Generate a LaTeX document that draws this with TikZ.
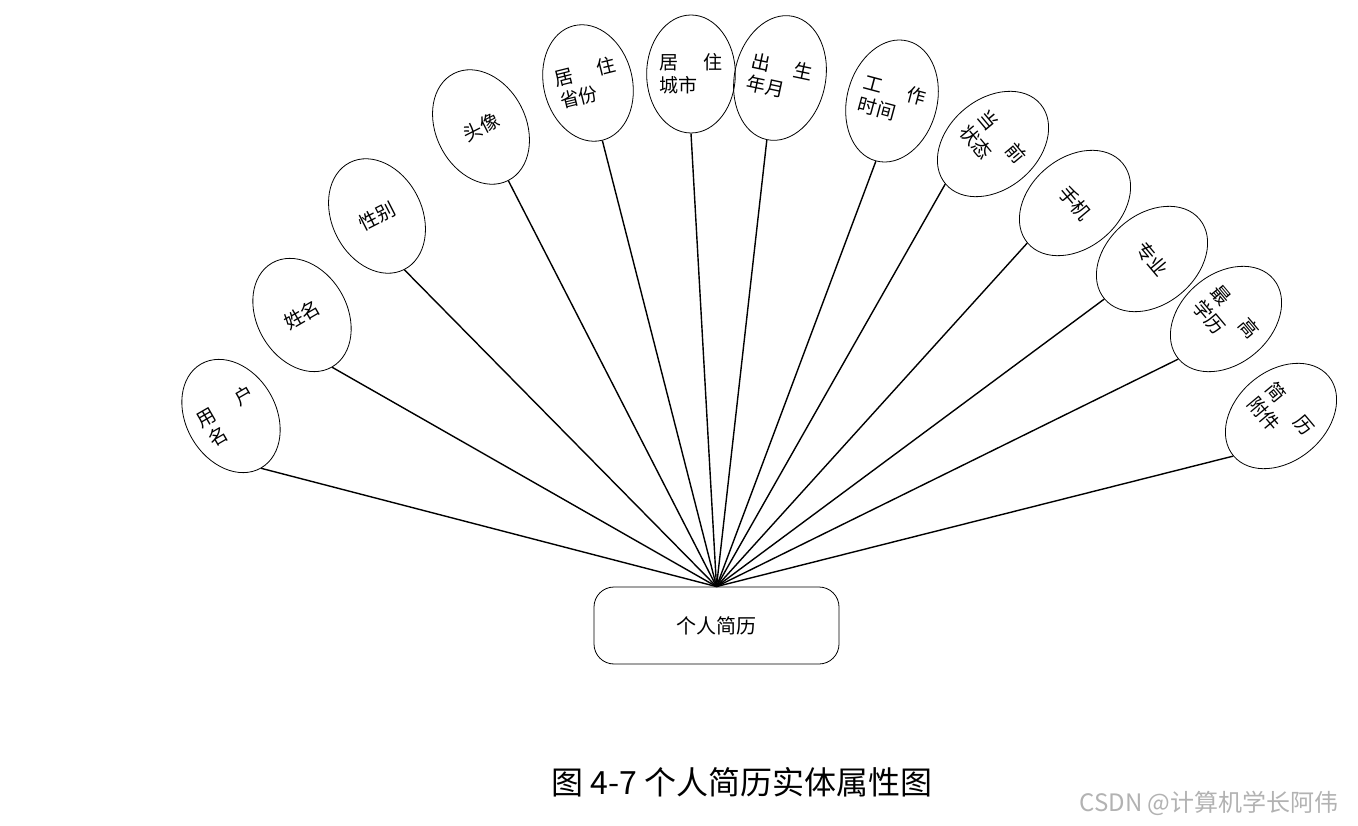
\documentclass[tikz,border=0pt]{standalone}
\usepackage{fontspec}
\setmainfont{Noto Sans CJK SC}
\usetikzlibrary{shapes.geometric}

\begin{document}
\begin{tikzpicture}[
    x=1pt, y=-1pt,
    attr/.style={ellipse, draw, line width=0.8pt, minimum width=90pt, minimum height=120pt, inner sep=0pt, align=left, font=\fontsize{19}{23}\selectfont},
    entity/.style={rectangle, draw, line width=0.8pt, rounded corners=20pt, minimum width=245pt, minimum height=77pt, font=\fontsize{20}{24}\selectfont},
    link/.style={line width=1.4pt}
]
\useasboundingbox (0,0) rectangle (1358,826);
\node[entity] (cv) at (716.5,625.5) {个人简历};
\node[attr, rotate=30] (yhm) at (231,416) {用\hspace{1.3em}户\\名};
\node[attr, rotate=30] (xm) at (302,315) {姓名};
\node[attr, rotate=27] (xb) at (377,216) {性别};
\node[attr, rotate=27] (tx) at (481,127) {头像};
\node[attr, rotate=14, minimum width=88pt, minimum height=118pt] (jzsf) at (588,83) {居\hspace{1.3em}住\\省份};
\node[attr, minimum width=88pt, minimum height=118pt] (jzcs) at (691,74) {居\hspace{1.3em}住\\城市};
\node[attr, rotate=-12, minimum width=91pt, minimum height=126pt] (csny) at (780,78) {出\hspace{1.3em}生\\年月};
\node[attr, rotate=-15, minimum height=124pt] (gzsj) at (892,101) {工\hspace{1.3em}作\\时间};
\node[attr, rotate=-50, minimum height=124pt] (dqzt) at (993,144) {当\hspace{1.3em}前\\状态};
\node[attr, rotate=-50, minimum height=124pt] (sj) at (1075,203) {手机};
\node[attr, rotate=-50, minimum height=124pt] (zy) at (1152,259) {专业};
\node[attr, rotate=-50, minimum height=124pt] (zgxl) at (1226,319) {最\hspace{1.3em}高\\学历};
\node[attr, rotate=-50, minimum height=124pt] (jlfj) at (1281,416) {简\hspace{1.3em}历\\附件};
\draw[link] (cv.north) -- (yhm.south);
\draw[link] (cv.north) -- (xm.south);
\draw[link] (cv.north) -- (xb.south);
\draw[link] (cv.north) -- (tx.south);
\draw[link] (cv.north) -- (jzsf.south);
\draw[link] (cv.north) -- (jzcs.south);
\draw[link] (cv.north) -- (csny.south);
\draw[link] (cv.north) -- (gzsj.south);
\draw[link] (cv.north) -- (dqzt.south);
\draw[link] (cv.north) -- (sj.south);
\draw[link] (cv.north) -- (zy.south);
\draw[link] (cv.north) -- (zgxl.south);
\draw[link] (cv.north) -- (jlfj.south);
\node[font=\fontsize{32}{36}\selectfont] (cap) at (742,782) {图 4-7 个人简历实体属性图};
\node[font=\fontsize{24}{28}\selectfont, text=black!30] (mark) at (1209,803) {CSDN @计算机学长阿伟};
\end{tikzpicture}
\end{document}
